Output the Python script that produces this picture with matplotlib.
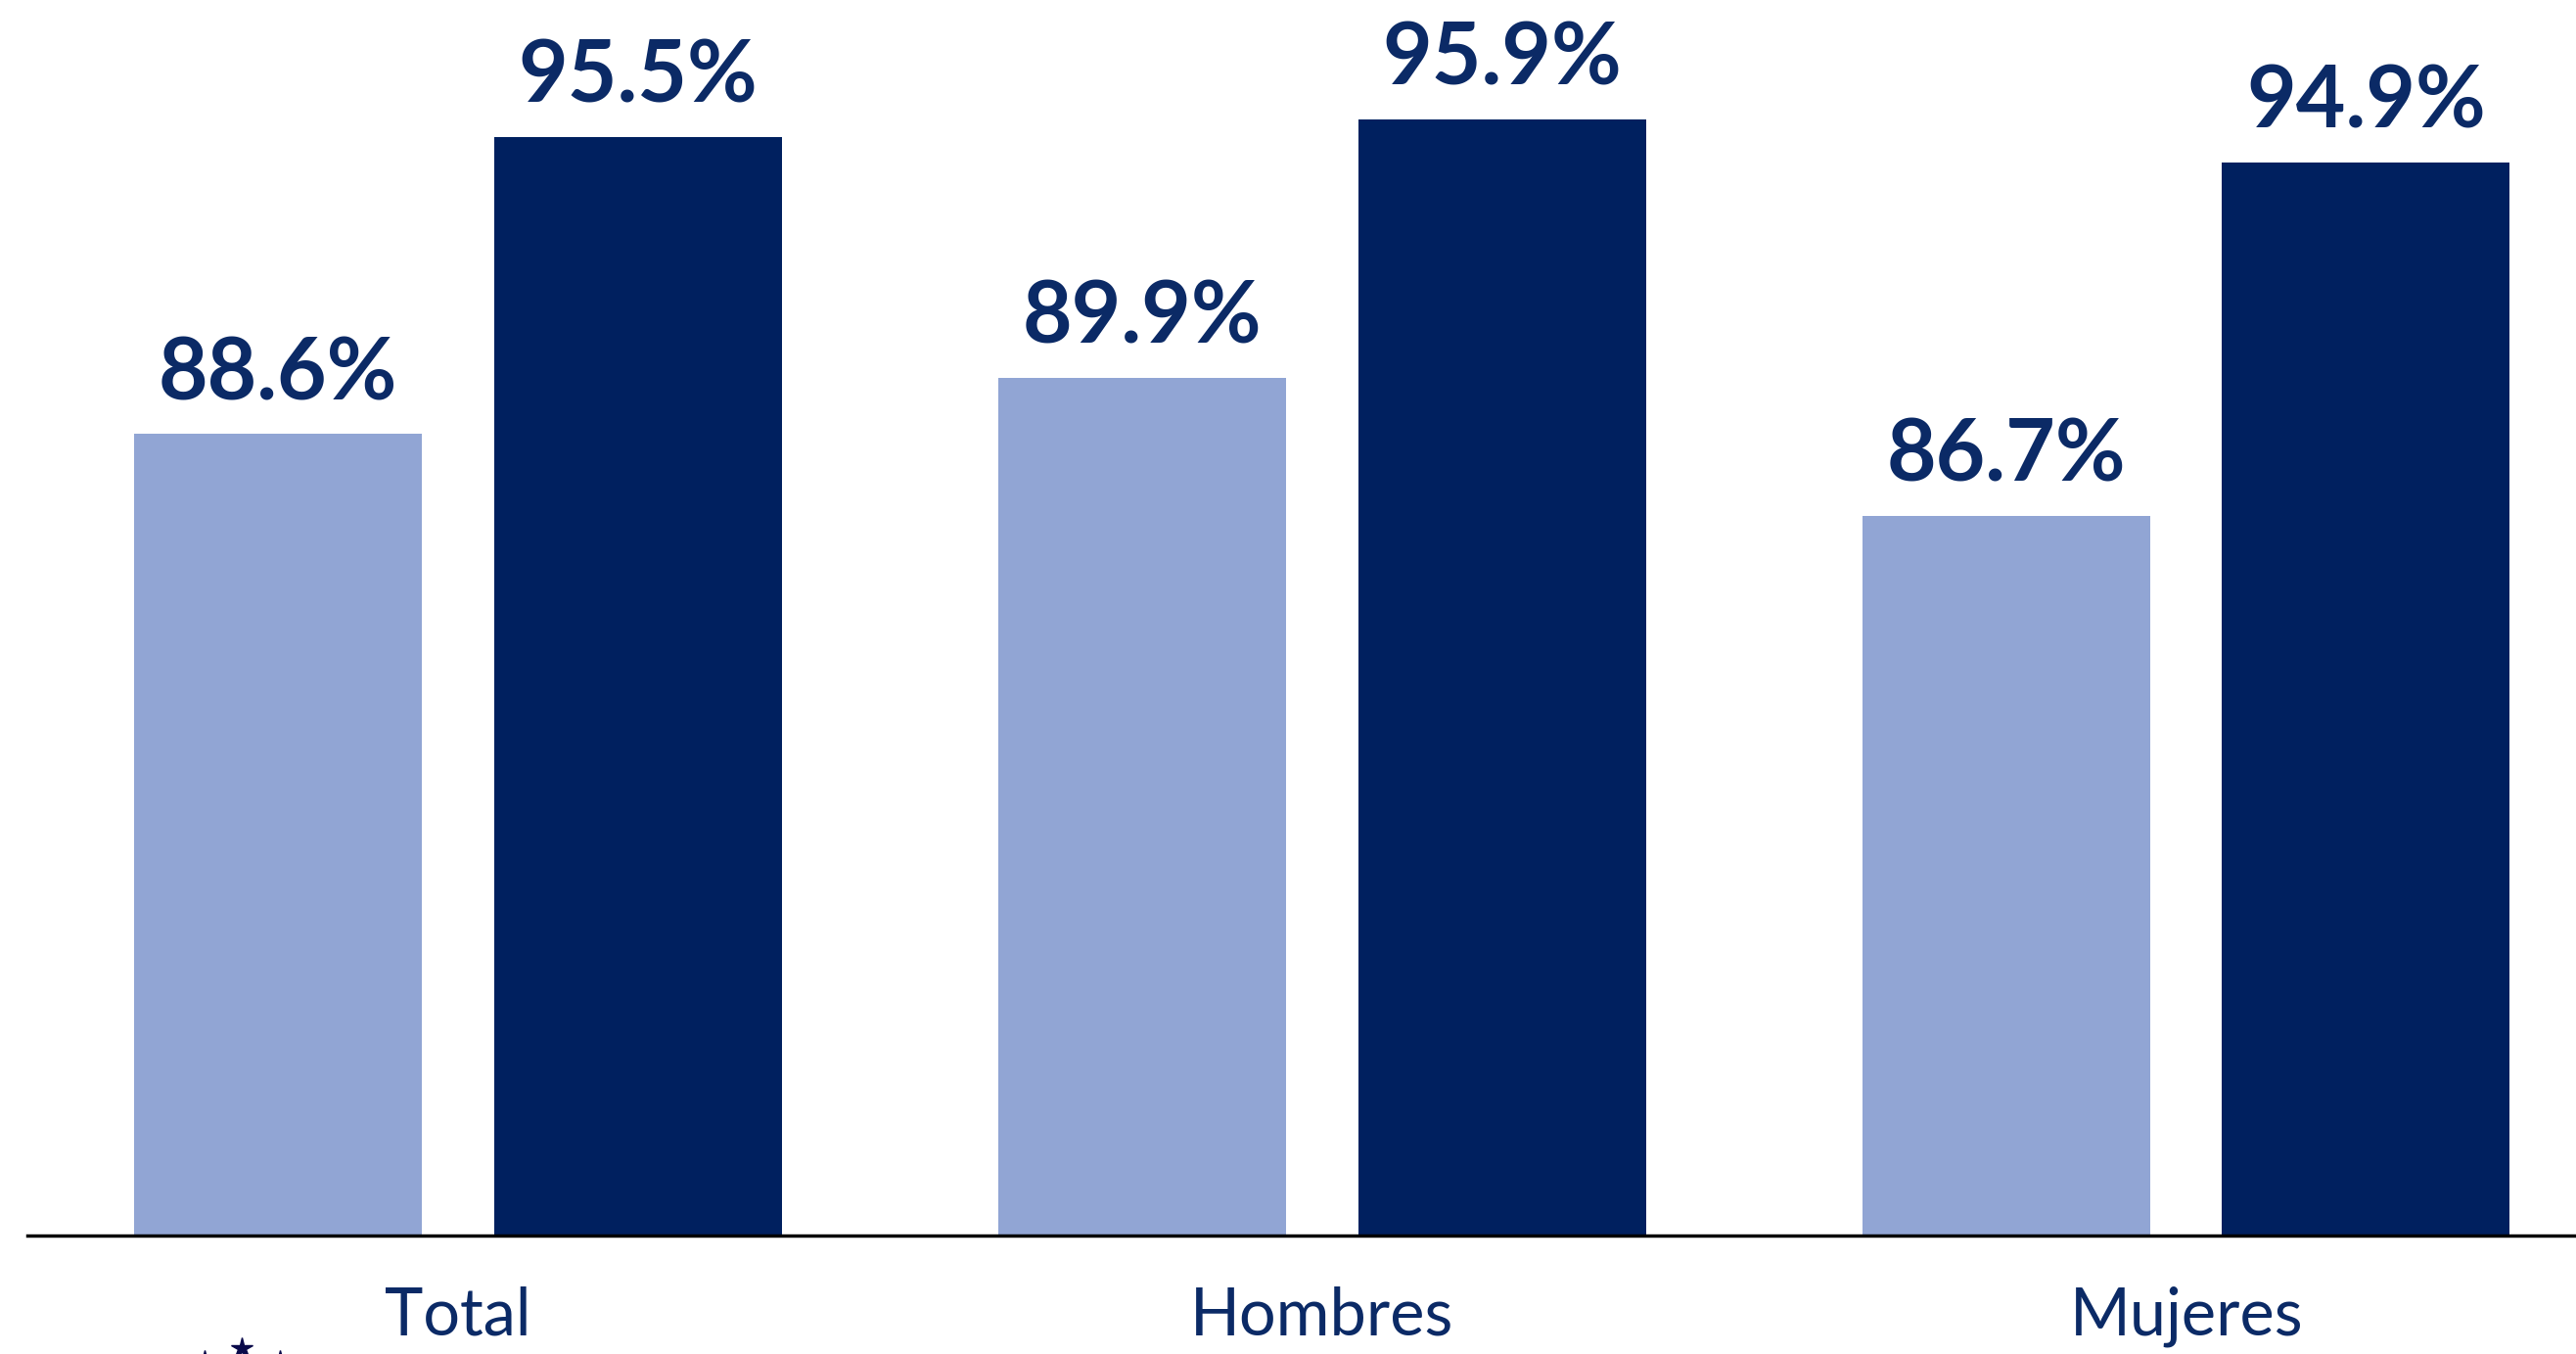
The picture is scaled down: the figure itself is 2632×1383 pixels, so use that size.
import matplotlib
matplotlib.use("Agg")
import matplotlib.pyplot as plt
from matplotlib.lines import Line2D
import numpy as np

categories = ["Total", "Hombres", "Mujeres"]
series_a = [88.6, 89.9, 86.7]
series_b = [95.5, 95.9, 94.9]

light = "#91A5D4"
dark = "#00205F"
text_col = "#0B2A66"

W, H = 2632, 1383
fig = plt.figure(figsize=(W / 100, H / 100), dpi=100)
base_px = 1262
ax = fig.add_axes([0, (H - base_px) / H, 1, base_px / H])

x = np.arange(len(categories))
bw = 0.333
off = 0.208
ax.bar(x - off, series_a, width=bw, color=light)
ax.bar(x + off, series_b, width=bw, color=dark)

for xi, v in zip(x - off, series_a):
    ax.text(xi, v + 0.8, f"{v:.1f}%", ha="center", va="baseline",
            fontsize=63, fontweight="bold", color=text_col, family="Lato")
for xi, v in zip(x + off, series_b):
    ax.text(xi, v + 0.8, f"{v:.1f}%", ha="center", va="baseline",
            fontsize=63, fontweight="bold", color=text_col, family="Lato")

ax.set_xlim(-0.530, 2.451)
ax.set_ylim(70, 98.67)
ax.set_xticks(x)
ax.set_xticklabels(categories, fontsize=48, color=text_col, family="Lato",
                   fontweight="normal")
ax.tick_params(axis="x", length=0, pad=37)
ax.set_yticks([])
for s in ["top", "right", "left"]:
    ax.spines[s].set_visible(False)
ax.spines["bottom"].set_linewidth(2.5)
ax.spines["bottom"].set_color("black")
ax.spines["bottom"].set_bounds(-0.498, 2.451)

# partial logo stars at bottom-left
star_x = [209, 247, 286]
star_y = [1390, 1377, 1390]
fig.add_artist(Line2D([sx / W for sx in star_x], [1 - sy / H for sy in star_y],
                      transform=fig.transFigure, linestyle="none", marker="*",
                      markersize=16, color="#0A0A4A"))

fig.savefig("out.png", dpi=100)
